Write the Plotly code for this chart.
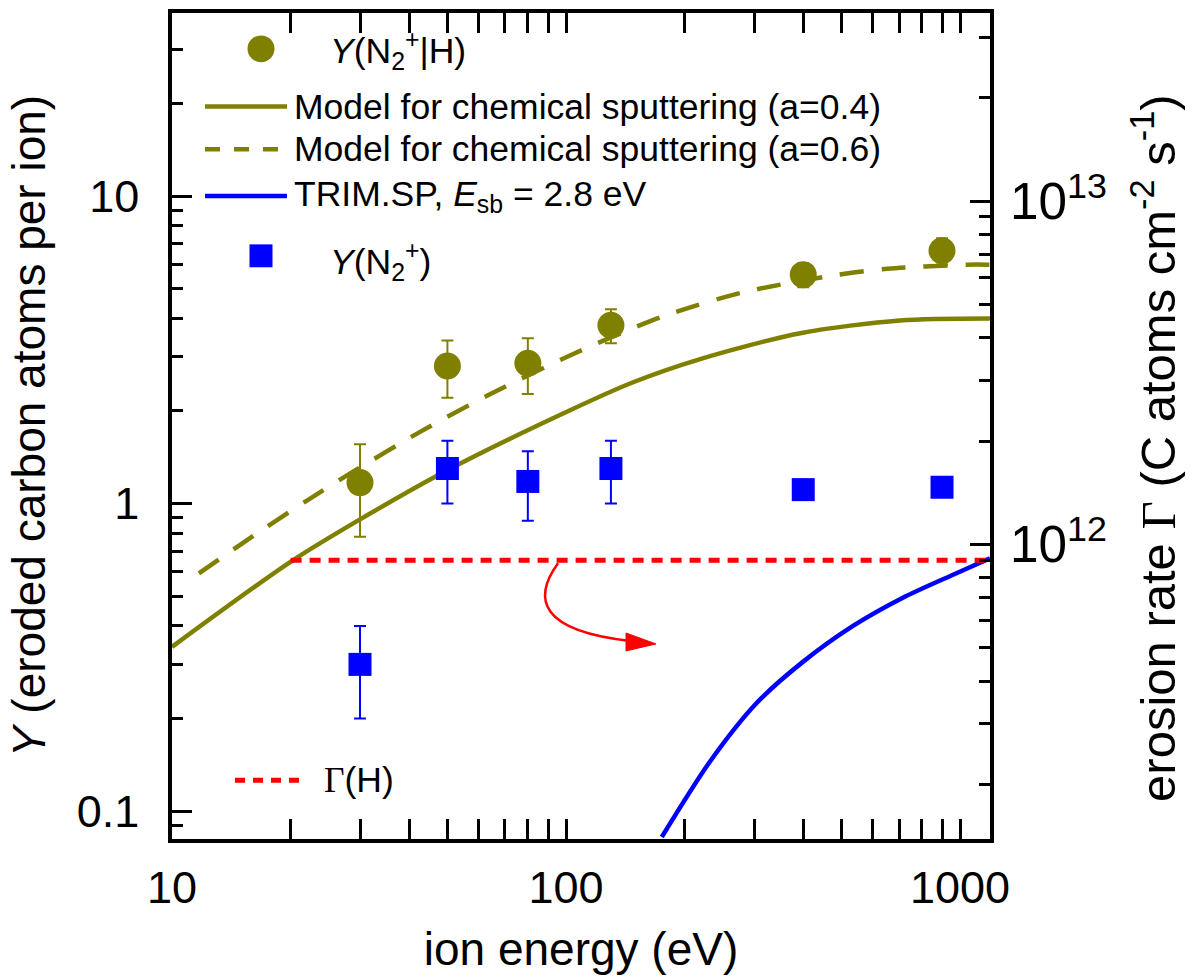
import plotly.graph_objects as go

# ---- data -------------------------------------------------------------
# chemical sputtering model, a = 0.4 (eV, yield)
model04_E = [10, 19.9, 30.0, 50.8, 104, 148, 219, 393, 704, 1191]
model04_Y = [0.342, 0.644, 0.888, 1.298, 2.03, 2.48, 2.95, 3.58, 3.94, 4.00]

# chemical sputtering model, a = 0.6
model06_E = [11.7, 17.0, 22.0, 28.8, 42.6, 63.0, 104, 176, 281, 476, 653, 1042, 1191]
model06_Y = [0.593, 0.824, 1.023, 1.269, 1.71, 2.24, 3.06, 4.06, 4.86, 5.51, 5.80, 5.98, 5.98]

# TRIM.SP physical sputtering, E_sb = 2.8 eV
trim_E = [175, 232, 305, 397, 535, 716, 960, 1191]
trim_Y = [0.0824, 0.145, 0.225, 0.304, 0.400, 0.494, 0.587, 0.664]

# measured yields Y(N2+|H)
nh_E = [30, 50, 80, 130, 400, 900]
nh_Y = [1.17, 2.80, 2.86, 3.80, 5.55, 6.64]
nh_err = [0.39, 0.59, 0.59, 0.48, 0.50, 0.65]

# measured yields Y(N2+)
n_E = [30, 50, 80, 130, 400, 900]
n_Y = [0.30, 1.30, 1.18, 1.30, 1.11, 1.13]
n_err = [0.10, 0.30, 0.30, 0.30, 0.08, 0.08]

# erosion rate by atomic hydrogen alone (right axis)
gammaH_E = [20, 1200]
gammaH_rate = [9.0e11, 9.0e11]

# ---- styling ------------------------------------------------------------
OLIVE = "#808000"
BLUE = "#0000FF"
RED = "#FF0000"
FONT = "Liberation Sans, Arial, sans-serif"
SERIF_GAMMA = "<span style='font-family:Liberation Serif'>\u0393</span>"

W, H = 1192, 979
L, R, T, B = 172, 990, 9, 839   # plot frame in pixels


def fx(px):
    return (px - L) / (R - L)


def fy(py):
    return (B - py) / (B - T)


fig = go.Figure()

fig.add_trace(go.Scatter(x=model04_E, y=model04_Y, mode="lines",
                         line=dict(color=OLIVE, width=4.5, shape="spline", smoothing=0.8),
                         showlegend=False))
fig.add_trace(go.Scatter(x=model06_E, y=model06_Y, mode="lines",
                         line=dict(color=OLIVE, width=4.5, dash="24px,18px",
                                   shape="spline", smoothing=0.8),
                         showlegend=False))
fig.add_trace(go.Scatter(x=trim_E, y=trim_Y, mode="lines",
                         line=dict(color=BLUE, width=4.5, shape="spline", smoothing=0.8),
                         showlegend=False))
fig.add_trace(go.Scatter(x=gammaH_E, y=gammaH_rate, mode="lines", yaxis="y2",
                         line=dict(color=RED, width=5, dash="11px,8px"),
                         showlegend=False))
fig.add_trace(go.Scatter(x=nh_E, y=nh_Y, mode="markers",
                         marker=dict(symbol="circle", size=27, color=OLIVE),
                         error_y=dict(type="data", array=nh_err, color=OLIVE,
                                      thickness=2, width=6),
                         showlegend=False))
fig.add_trace(go.Scatter(x=n_E, y=n_Y, mode="markers",
                         marker=dict(symbol="square", size=23, color=BLUE),
                         error_y=dict(type="data", array=n_err, color=BLUE,
                                      thickness=2, width=6),
                         showlegend=False))

# ---- hand-placed legend --------------------------------------------------
shapes = []
annotations = []
LEG_FONT = dict(family=FONT, size=35.5, color="black")


def legend_text(px, py, text):
    annotations.append(dict(x=fx(px), y=fy(py), xref="paper", yref="paper",
                            text=text, showarrow=False, xanchor="left",
                            yanchor="middle", font=LEG_FONT))


def legend_line(py, color, dash="solid", x0=205, x1=287, width=4.5):
    shapes.append(dict(type="line", xref="paper", yref="paper",
                       x0=fx(x0), x1=fx(x1), y0=fy(py), y1=fy(py),
                       line=dict(color=color, width=width, dash=dash)))


# circle sample
shapes.append(dict(type="circle", xref="paper", yref="paper",
                   x0=fx(261 - 13.5), x1=fx(261 + 13.5),
                   y0=fy(45 + 13.5), y1=fy(45 - 13.5),
                   fillcolor=OLIVE, line=dict(width=0)))
legend_text(328, 47, "<i>Y</i>(N<sub>2</sub><sup>+</sup>|H)")

legend_line(103, OLIVE)
legend_text(292, 103, "Model for chemical sputtering (a=0.4)")

legend_line(146, OLIVE, dash="15px,14px")
legend_text(292, 146, "Model for chemical sputtering (a=0.6)")

legend_line(193, BLUE)
legend_text(292, 193, "TRIM.SP, <i>E</i><sub>sb</sub> = 2.8 eV")

# square sample
shapes.append(dict(type="rect", xref="paper", yref="paper",
                   x0=fx(261 - 11.5), x1=fx(261 + 11.5),
                   y0=fy(253 + 11.5), y1=fy(253 - 11.5),
                   fillcolor=BLUE, line=dict(width=0)))
legend_text(328, 259, "<i>Y</i>(N<sub>2</sub><sup>+</sup>)")

legend_line(780, RED, dash="10px,8px", x0=235, x1=305, width=5)
legend_text(322, 780, SERIF_GAMMA + "(H)")

# curved arrow pointing towards the right-hand axis
shapes.append(dict(type="path", xref="paper", yref="paper",
                   path=(f"M {fx(558)},{fy(562)} C {fx(532)},{fy(598)} "
                         f"{fx(540)},{fy(630)} {fx(630)},{fy(640)}"),
                   line=dict(color=RED, width=2.5)))
shapes.append(dict(type="path", xref="paper", yref="paper",
                   path=(f"M {fx(626)},{fy(632)} L {fx(656)},{fy(643)} "
                         f"L {fx(626)},{fy(650)} Z"),
                   fillcolor=RED, line=dict(color=RED, width=1)))

# right-hand axis title, set as a rotated annotation
annotations.append(dict(
    x=fx(1155), y=fy(447), xref="paper", yref="paper",
    text="erosion rate " + SERIF_GAMMA + " (C atoms cm<sup>-2</sup> s<sup>-1</sup>)",
    textangle=-90, showarrow=False, xanchor="center", yanchor="middle",
    font=dict(family=FONT, size=49, color="black")))

# ---- axes -----------------------------------------------------------------
tick_font = dict(family=FONT, size=45, color="black")
title_font = dict(family=FONT, size=46, color="black")
minor_ticks = dict(ticks="inside", ticklen=11, tickwidth=3, tickcolor="black",
                   showgrid=False)

fig.update_layout(
    width=W, height=H,
    margin=dict(l=L, r=W - R, t=T, b=H - B),
    paper_bgcolor="white", plot_bgcolor="white",
    font=dict(family=FONT, color="black"),
    shapes=shapes, annotations=annotations,
    xaxis=dict(type="log", range=[1.0, 3.076], dtick=1,
               showline=True, linecolor="black", linewidth=3.5,
               mirror="allticks", ticks="inside", ticklen=20, tickwidth=3,
               tickcolor="black", minor=minor_ticks,
               showgrid=False, zeroline=False, tickfont=tick_font,
               ticklabelstandoff=6,
               title=dict(text="ion energy (eV)", font=title_font, standoff=22)),
    yaxis=dict(type="log", range=[-1.0906, 1.595], dtick=1,
               showline=True, linecolor="black", linewidth=3.5, mirror=True,
               ticks="inside", ticklen=20, tickwidth=3, tickcolor="black",
               minor=minor_ticks,
               showgrid=False, zeroline=False, tickfont=tick_font,
               ticklabelstandoff=20,
               title=dict(text="<i>Y</i> (eroded carbon atoms per ion)",
                          font=title_font, standoff=18)),
    yaxis2=dict(type="log", range=[11.142, 13.548], dtick=1, overlaying="y",
                side="right", exponentformat="power", showexponent="all",
                showline=True, linecolor="black", linewidth=3.5,
                ticks="inside", ticklen=20, tickwidth=3, tickcolor="black",
                minor=minor_ticks,
                showgrid=False, zeroline=False,
                tickfont=dict(family=FONT, size=41, color="black"),
                ticklabelstandoff=8),
)

fig.write_html("out.html")
